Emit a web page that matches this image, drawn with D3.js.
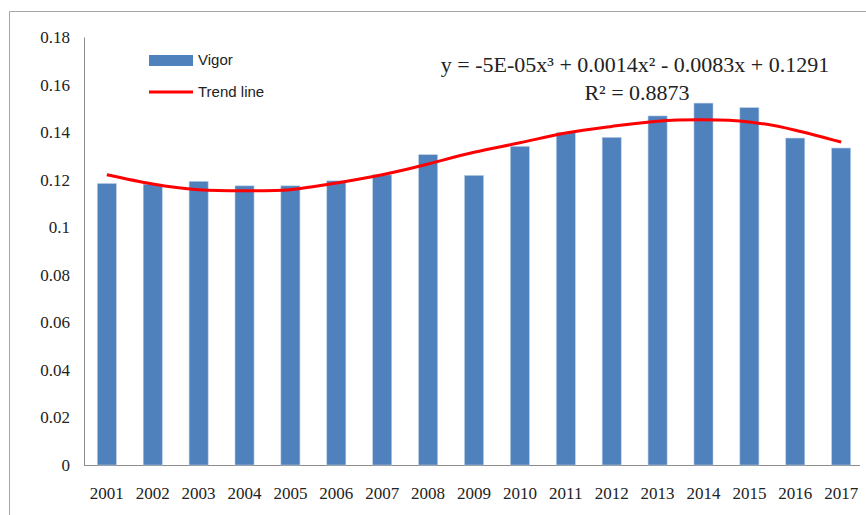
<!DOCTYPE html>
<html>
<head>
<meta charset="utf-8">
<script src="https://d3js.org/d3.v7.min.js"></script>
<style>
  body { margin: 0; background: #fff; }
</style>
</head>
<body>
<div class="chart"></div>
<script>
var years = ["2001", "2002", "2003", "2004", "2005", "2006", "2007", "2008", "2009",
  "2010", "2011", "2012", "2013", "2014", "2015", "2016", "2017"];
var vigor = [0.1184, 0.1181, 0.1193, 0.1174, 0.1174, 0.1195, 0.1220, 0.1305, 0.1218,
  0.1340, 0.1398, 0.1378, 0.1468, 0.1522, 0.1503, 0.1375, 0.1333];
// trend line at each year
var trend = [0.1221, 0.1182, 0.1158, 0.1153, 0.1158, 0.1186, 0.1221, 0.1266, 0.1315,
  0.1355, 0.1396, 0.1424, 0.1446, 0.1452, 0.1443, 0.1408, 0.1358];
var yTicks = [0, 0.02, 0.04, 0.06, 0.08, 0.1, 0.12, 0.14, 0.16, 0.18];
var yTickLabels = ["0", "0.02", "0.04", "0.06", "0.08", "0.1", "0.12", "0.14", "0.16", "0.18"];
var equation = "y = -5E-05x\u00B3 + 0.0014x\u00B2 - 0.0083x + 0.1291";
var rSquared = "R\u00B2 = 0.8873";

var serif = "Liberation Serif, Times New Roman, serif";
var sans = "Liberation Sans, Arial, sans-serif";

var svgWidth = 866;
var svgHeight = 515;

var svg = d3
  .select(".chart")
  .append("svg")
  .attr("width", svgWidth)
  .attr("height", svgHeight);

// outer frame (only top and left edges are visible)
svg.append("path")
  .attr("d", "M9.5," + svgHeight + "V11.5H" + svgWidth)
  .attr("fill", "none")
  .attr("stroke", "#a6a6a6")
  .attr("stroke-width", 1);

var xBandScale = d3.scaleBand()
  .domain(years)
  .range([84, 864])
  .paddingInner(0.585)
  .paddingOuter(0.29);

var yLinearScale = d3.scaleLinear()
  .domain([0, 0.18])
  .range([465, 37]);

var bottomAxis = d3.axisBottom(xBandScale).tickSize(0).tickPadding(22);
var leftAxis = d3.axisLeft(yLinearScale)
  .tickValues(yTicks)
  .tickSize(0)
  .tickPadding(14)
  .tickFormat(function(d, i) { return yTickLabels[i]; });

var xAxisG = svg.append("g")
  .attr("transform", "translate(0,465)")
  .call(bottomAxis)
  .attr("font-family", serif)
  .attr("font-size", 17);
xAxisG.select(".domain").attr("stroke", "#8c8c8c").attr("d", "M84,0.5H860");

var yAxisG = svg.append("g")
  .attr("transform", "translate(84,0)")
  .call(leftAxis)
  .attr("font-family", serif)
  .attr("font-size", 17);
yAxisG.select(".domain").attr("stroke", "#8c8c8c");

svg.selectAll(".tick text")
  .attr("fill", "#222")
  .attr("font-family", serif)
  .attr("font-size", 17);

svg.selectAll(".bar")
  .data(vigor)
  .enter()
  .append("rect")
  .attr("class", "bar")
  .attr("x", function(d, i) { return xBandScale(years[i]); })
  .attr("y", function(d) { return yLinearScale(d); })
  .attr("width", xBandScale.bandwidth())
  .attr("height", function(d) { return 465 - yLinearScale(d); })
  .attr("fill", "#4f81bd")
  .attr("stroke", "#b9cde5")
  .attr("stroke-width", 0.6);

var trendLine = d3.line()
  .x(function(d, i) { return xBandScale(years[i]) + xBandScale.bandwidth() / 2; })
  .y(function(d) { return yLinearScale(d); })
  .curve(d3.curveNatural);

svg.append("path")
  .datum(trend)
  .attr("d", trendLine)
  .attr("fill", "none")
  .attr("stroke", "#ff0000")
  .attr("stroke-width", 3);

// legend
var legend = svg.append("g")
  .attr("font-family", sans)
  .attr("font-size", 15)
  .attr("fill", "#222");
legend.append("rect")
  .attr("x", 149).attr("y", 55)
  .attr("width", 44).attr("height", 11)
  .attr("fill", "#4f81bd");
legend.append("text")
  .attr("x", 198).attr("y", 65)
  .text("Vigor");
legend.append("line")
  .attr("x1", 149).attr("x2", 193)
  .attr("y1", 92).attr("y2", 92)
  .attr("stroke", "#ff0000")
  .attr("stroke-width", 3);
legend.append("text")
  .attr("x", 198).attr("y", 97)
  .text("Trend line");

// equation label
svg.append("text")
  .attr("x", 635).attr("y", 72)
  .attr("text-anchor", "middle")
  .attr("fill", "#222")
  .attr("font-family", serif)
  .attr("font-size", 22)
  .text(equation);
svg.append("text")
  .attr("x", 637).attr("y", 100)
  .attr("text-anchor", "middle")
  .attr("fill", "#222")
  .attr("font-family", serif)
  .attr("font-size", 22)
  .text(rSquared);
</script>
</body>
</html>
